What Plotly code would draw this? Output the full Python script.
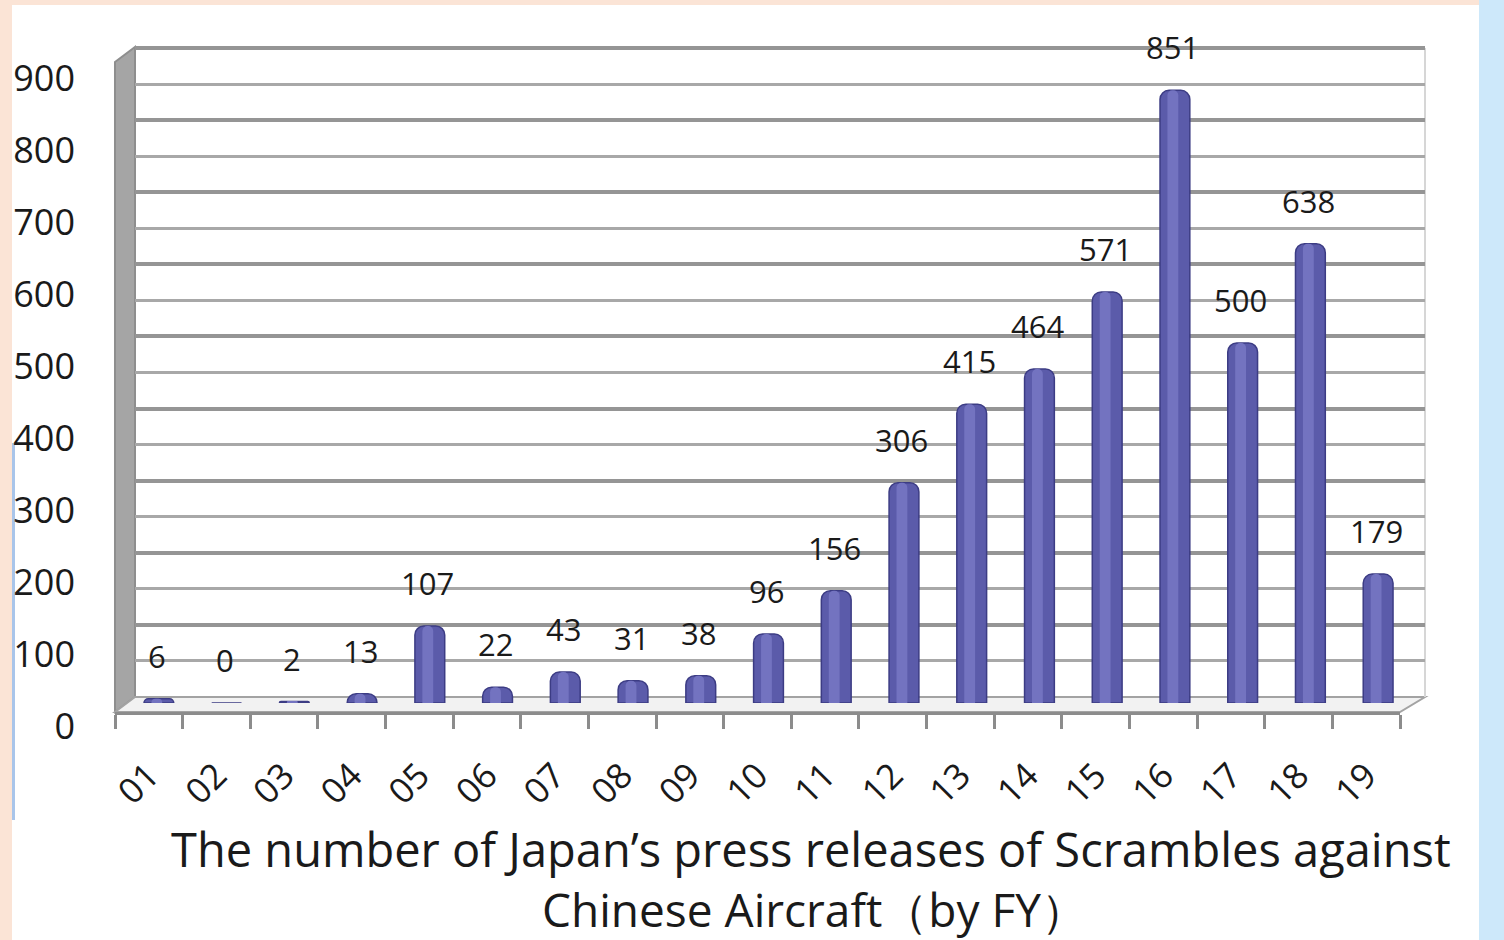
import plotly.graph_objects as go

# ---- data ----
categories = ["01", "02", "03", "04", "05", "06", "07", "08", "09", "10",
              "11", "12", "13", "14", "15", "16", "17", "18", "19"]
values = [6, 0, 2, 13, 107, 22, 43, 31, 38, 96,
          156, 306, 415, 464, 571, 851, 500, 638, 179]
y_ticks = [0, 100, 200, 300, 400, 500, 600, 700, 800, 900]
title_line1 = "The number of Japan’s press releases of Scrambles against"
title_line2 = "Chinese Aircraft（by FY）"

W, H = 1504, 940
def fx(px):
    return px / W
def fy(py):
    return 1 - py / H

FONT = "Liberation Sans Narrow, Open Sans, Liberation Sans, sans-serif"
TFONT = "Open Sans, Noto Sans, sans-serif"

fig = go.Figure()

# grid (back wall) subplot: x / y
fig.add_trace(go.Scatter(x=categories, y=values, xaxis="x", yaxis="y",
                         mode="markers", marker=dict(opacity=0),
                         showlegend=False, hoverinfo="skip"))
# bars subplot: x2 / y2
fig.add_trace(go.Bar(x=categories, y=values, xaxis="x2", yaxis="y2",
                     width=0.44, offset=-0.22,
                     marker=dict(color="#5b5baa", cornerradius=9,
                                 line=dict(color="#3c3c84", width=1.5)),
                     showlegend=False, hoverinfo="skip"))
fig.add_trace(go.Bar(x=categories, y=values, xaxis="x2", yaxis="y2",
                     width=0.16, offset=-0.11,
                     marker=dict(color="#7373c0", cornerradius=6, line=dict(width=0)),
                     showlegend=False, hoverinfo="skip"))
# front axis subplot: x3 / y3
fig.add_trace(go.Scatter(x=categories, y=values, xaxis="x3", yaxis="y3",
                         mode="markers", marker=dict(opacity=0),
                         showlegend=False, hoverinfo="skip"))

# data labels (positions by category index on the bar axis)
for i, v in enumerate(values):
    fig.add_annotation(x=i, y=v, xref="x2", yref="y2", text=str(v),
                       showarrow=False, yanchor="bottom", yshift=20, xshift=-2,
                       font=dict(family=FONT, size=31, color="#1a1a1a"))

# title annotations
fig.add_annotation(x=fx(811), y=fy(849), xref="paper", yref="paper",
                   text=title_line1, showarrow=False, xanchor="center", yanchor="middle",
                   font=dict(family=TFONT, size=47, color="#1a1a1a"))
fig.add_annotation(x=fx(814), y=fy(909), xref="paper", yref="paper",
                   text=title_line2, showarrow=False, xanchor="center", yanchor="middle",
                   font=dict(family=TFONT, size=46, color="#1a1a1a"))

base_px = 703.0
scale = 0.72
ymax2 = 950
top2 = base_px - ymax2 * scale

grid_base = 697.0
grid_scale = (697.0 - 48.0) / 900.0
grid_max = 910
grid_top = grid_base - grid_max * grid_scale

fig.update_layout(
    template="none",
    width=W, height=H,
    margin=dict(l=0, r=0, t=0, b=0, pad=0, autoexpand=False),
    paper_bgcolor="#fbe4d6",
    plot_bgcolor="rgba(0,0,0,0)",
    barmode="overlay",
    showlegend=False,
    xaxis=dict(domain=[fx(135), fx(1425)], anchor="y", type="category",
               range=[-0.5, 18.5], visible=False, automargin=False),
    yaxis=dict(domain=[fy(grid_base), fy(grid_top)], anchor="x", range=[0, grid_max],
               showticklabels=False, ticks="", zeroline=False, showline=False,
               automargin=False,
               showgrid=True, gridcolor="#959595", gridwidth=4,
               tickmode="linear", tick0=0, dtick=100,
               minor=dict(dtick=50, showgrid=True, gridcolor="#a8a8a8", gridwidth=3)),
    xaxis2=dict(domain=[fx(125), fx(1412)], anchor="y2", type="category",
                range=[-0.5, 18.5], visible=False, automargin=False),
    yaxis2=dict(domain=[fy(base_px), fy(top2)], anchor="x2", range=[0, ymax2],
                showgrid=False, zeroline=False, showline=False, automargin=False,
                tickmode="array", tickvals=y_ticks, ticktext=[str(t) for t in y_ticks],
                ticks="", ticklabelstandoff=49, ticklabelshift=23,
                tickfont=dict(family=FONT, size=36, color="#1a1a1a")),
    xaxis3=dict(domain=[fx(115), fx(1400)], anchor="y3", type="category",
                range=[-0.5, 18.5], showline=True, linecolor="#8c8c8c", linewidth=3,
                automargin=False, zeroline=False,
                ticks="outside", tickson="boundaries", ticklen=14, tickwidth=3,
                tickcolor="#8c8c8c", tickangle=-45, showgrid=False,
                ticklabelstandoff=26, ticklabelshift=0,
                tickfont=dict(family=FONT, size=35, color="#1a1a1a")),
    yaxis3=dict(domain=[fy(712), fy(706)], anchor="x3", visible=False, automargin=False),
)

shapes = []
# white panel and right blue strip
shapes.append(dict(type="rect", xref="paper", yref="paper", x0=fx(12), x1=fx(1479),
                   y0=fy(940), y1=fy(5), fillcolor="white", line=dict(width=0), layer="below"))
shapes.append(dict(type="rect", xref="paper", yref="paper", x0=fx(1479), x1=1,
                   y0=0, y1=1, fillcolor="#cde8fa", line=dict(width=0), layer="below"))
shapes.append(dict(type="rect", xref="paper", yref="paper", x0=fx(12), x1=fx(15),
                   y0=fy(820), y1=fy(443), fillcolor="#a9c5ea", line=dict(width=0), layer="below"))

def path(points):
    return "M " + " L ".join(f"{fx(a):.5f},{fy(b):.5f}" for a, b in points) + " Z"

# left side wall
shapes.append(dict(type="path", xref="paper", yref="paper",
                   path=path([(115, 62), (135, 47), (135, 697), (115, 712)]),
                   fillcolor="#a5a5a5", line=dict(color="#8e8e8e", width=2), layer="below"))
# floor
shapes.append(dict(type="path", xref="paper", yref="paper",
                   path=path([(115, 712), (135, 697), (1425, 697), (1400, 712)]),
                   fillcolor="#f2f2f2", line=dict(color="#a3a3a3", width=2), layer="below"))
# back wall right edge
shapes.append(dict(type="line", xref="paper", yref="paper", x0=fx(1425), x1=fx(1425),
                   y0=fy(697), y1=fy(48), line=dict(color="#d6d6d6", width=2), layer="below"))
fig.update_layout(shapes=shapes)

fig.write_html("out.html", config={"displayModeBar": False},
               post_script="document.body.style.margin='0';document.body.style.overflow='hidden';")
